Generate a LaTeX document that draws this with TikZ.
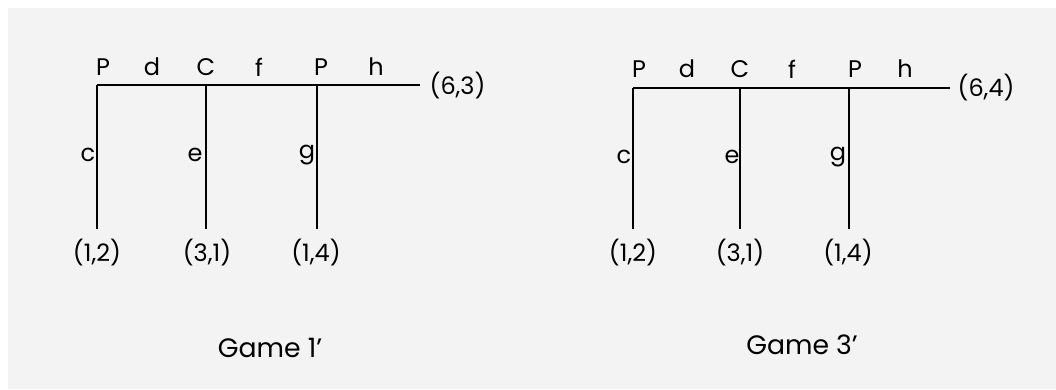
\documentclass[tikz,border=0pt]{standalone}
\usepackage{fontspec}
\setmainfont{Poppins}
\usepackage{xcolor}
\usetikzlibrary{positioning}
\definecolor{paper}{HTML}{F3F3F3}

\begin{document}
\begin{tikzpicture}[
    x=0.75pt, y=-0.75pt,
    every node/.style={inner sep=1pt},
    edge/.style={draw=black, line width=0.9pt},
    lbl/.style={font=\fontsize{18}{20}\selectfont},
    pay/.style={font=\fontsize{18}{20}\selectfont},
    title/.style={font=\fontsize{20}{22}\selectfont}
]
% paper background, pixel coordinates of the 1056x389 frame
\useasboundingbox (0,0) rectangle (1056,389);
\fill[white] (0,0) rectangle (1056,389);
\fill[paper] (8,8) rectangle (1056,389);

% Game 1'
\coordinate (P1) at (97,85);
\coordinate (C1) at (206,85);
\coordinate (Q1) at (317,85);
\coordinate (Z1) at (420,85);
\coordinate (L11) at (97,229);
\coordinate (L12) at (206,229);
\coordinate (L13) at (317,229);
\draw[edge] (P1) -- (Z1);
\draw[edge] (P1) -- (L11);
\draw[edge] (C1) -- (L12);
\draw[edge] (Q1) -- (L13);

\node[lbl] (pa1) at (103,67) {P};
\node[lbl] (d1)  at (152,67) {d};
\node[lbl] (ca1) at (206,67) {C};
\node[lbl] (f1)  at (259,67) {f};
\node[lbl] (pb1) at (321,67) {P};
\node[lbl] (h1)  at (376,67) {h};
\node[pay,anchor=west] (end1) at (428,86) {(6,3)};

\node[lbl] (c1) at (88,155) {c};
\node[lbl] (e1) at (195,155) {e};
\node[lbl] (g1) at (307,155) {g};

\node[pay] (o11) at (97,253) {(1,2)};
\node[pay] (o12) at (207,253) {(3,1)};
\node[pay] (o13) at (316,253) {(1,4)};

\node[title] (game1) at (270,348) {Game 1’};

% Game 3'
\coordinate (P3) at (633,88);
\coordinate (C3) at (740,88);
\coordinate (Q3) at (849,88);
\coordinate (Z3) at (950,88);
\coordinate (L31) at (633,229);
\coordinate (L32) at (740,229);
\coordinate (L33) at (849,229);
\draw[edge] (P3) -- (Z3);
\draw[edge] (P3) -- (L31);
\draw[edge] (C3) -- (L32);
\draw[edge] (Q3) -- (L33);

\node[lbl] (pa3) at (639,69) {P};
\node[lbl] (d3)  at (687,69) {d};
\node[lbl] (ca3) at (740,69) {C};
\node[lbl] (f3)  at (792,69) {f};
\node[lbl] (pb3) at (855,69) {P};
\node[lbl] (h3)  at (905,69) {h};
\node[pay,anchor=west] (end3) at (956,88) {(6,4)};

\node[lbl] (c3) at (624,157) {c};
\node[lbl] (e3) at (732,157) {e};
\node[lbl] (g3) at (838,157) {g};

\node[pay] (o31) at (633,253) {(1,2)};
\node[pay] (o32) at (740,253) {(3,1)};
\node[pay] (o33) at (848,253) {(1,4)};

\node[title] (game3) at (802,345) {Game 3’};
\end{tikzpicture}
\end{document}
